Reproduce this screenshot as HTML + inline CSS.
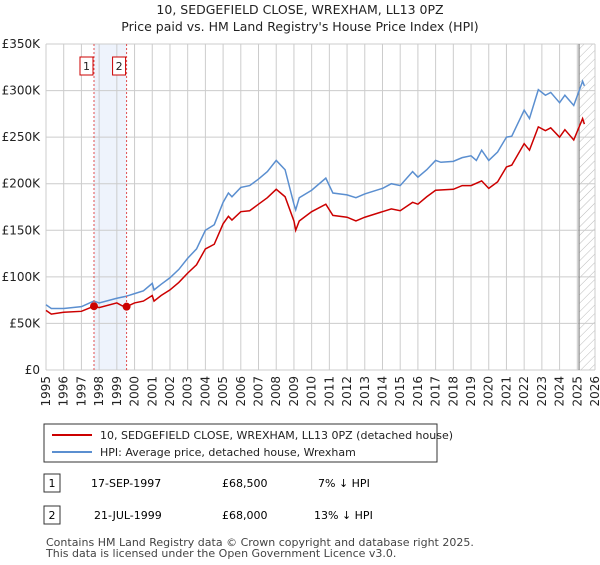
<!DOCTYPE html>
<html><head><meta charset="utf-8"><style>
body{margin:0;background:#fff;font-family:"Liberation Sans","DejaVu Sans",sans-serif;}
svg text{font-family:"DejaVu Sans","Liberation Sans",sans-serif;}
</style></head><body>
<svg id="c" width="600" height="560" viewBox="0 0 600 560">
<defs><pattern id="hatch" width="6" height="6" patternUnits="userSpaceOnUse" patternTransform="rotate(45)"><line x1="0" y1="0" x2="0" y2="6" stroke="#bbb" stroke-width="1"/></pattern></defs>
<text x="300" y="14" text-anchor="middle" font-size="12.5" fill="#222">10, SEDGEFIELD CLOSE, WREXHAM, LL13 0PZ</text>
<text x="300" y="31" text-anchor="middle" font-size="12.5" fill="#222">Price paid vs. HM Land Registry's House Price Index (HPI)</text>
<g id="grid"></g><g id="plot"></g>
<g>
<rect x="44" y="424" width="393" height="38" fill="#fff" stroke="#333"/>
<line x1="52" y1="435" x2="92" y2="435" stroke="#cc0000" stroke-width="2"/>
<text x="100" y="439" font-size="11" fill="#222">10, SEDGEFIELD CLOSE, WREXHAM, LL13 0PZ (detached house)</text>
<line x1="52" y1="452" x2="92" y2="452" stroke="#5b8fd0" stroke-width="2"/>
<text x="100" y="456" font-size="11" fill="#222">HPI: Average price, detached house, Wrexham</text>
</g>
<g>
<rect x="44" y="474" width="16" height="18" fill="#fff" stroke="#333"/><text x="52" y="487" text-anchor="middle" font-size="11">1</text>
<text x="91" y="487" font-size="11">17-SEP-1997</text><text x="222" y="487" font-size="11">£68,500</text><text x="318" y="487" font-size="11">7% ↓ HPI</text></g>
<g>
<rect x="44" y="506" width="16" height="18" fill="#fff" stroke="#333"/><text x="52" y="519" text-anchor="middle" font-size="11">2</text>
<text x="94" y="519" font-size="11">21-JUL-1999</text><text x="222" y="519" font-size="11">£68,000</text><text x="314" y="519" font-size="11">13% ↓ HPI</text></g>
<text x="46" y="546" font-size="11" fill="#444">Contains HM Land Registry data © Crown copyright and database right 2025.</text>
<text x="46" y="557" font-size="11" fill="#444">This data is licensed under the Open Government Licence v3.0.</text>
</svg>
<script>
const hpiYears=[1995,1995.3,1996,1997,1997.7,1998,1999,1999.5,2000,2000.5,2001,2001.1,2001.5,2002,2002.5,2003,2003.5,2004,2004.5,2005,2005.3,2005.5,2006,2006.5,2007,2007.5,2008,2008.5,2009,2009.1,2009.3,2010,2010.8,2011.2,2012,2012.5,2013,2014,2014.5,2015,2015.7,2016,2016.5,2017,2017.3,2018,2018.5,2019,2019.3,2019.6,2020,2020.5,2021,2021.3,2022,2022.3,2022.8,2023.2,2023.5,2024,2024.3,2024.8,2025.3,2025.4];
const hpiValues=[70,66,66,68,74,72,77,79,82,85,93,86,92,99,108,120,130,150,156,180,190,186,196,198,205,213,225,215,178,172,185,193,206,190,188,185,189,195,200,198,213,207,215,225,223,224,228,230,225,236,225,234,250,251,279,270,301,295,298,287,295,284,310,305];
const redYears=[1995,1995.3,1996,1997,1997.71,1998,1999,1999.3,1999.55,2000,2000.5,2001,2001.1,2001.5,2002,2002.5,2003,2003.5,2004,2004.5,2005,2005.3,2005.5,2006,2006.5,2007,2007.5,2008,2008.5,2009,2009.1,2009.3,2010,2010.8,2011.2,2012,2012.5,2013,2014,2014.5,2015,2015.7,2016,2016.5,2017,2018,2018.5,2019,2019.6,2020,2020.5,2021,2021.3,2022,2022.3,2022.8,2023.2,2023.5,2024,2024.3,2024.8,2025.3,2025.4];
const redValues=[64,60,62,63,68.5,67,72,69,68,72,74,80,74,80,86,94,104,113,130,135,157,165,161,170,171,178,185,194,186,160,150,160,170,178,166,164,160,164,170,173,171,180,178,186,193,194,198,198,203,195,202,218,220,243,236,261,257,260,250,258,247,270,264];
const saleYears=[1997.71,1999.55];
const saleValues=[68.5,68];
const saleLabels=["1","2"];
const yTicks=[0,50,100,150,200,250,300,350];
const yTickLabels=["£0","£50K","£100K","£150K","£200K","£250K","£300K","£350K"];
const xTicks=[1995,1996,1997,1998,1999,2000,2001,2002,2003,2004,2005,2006,2007,2008,2009,2010,2011,2012,2013,2014,2015,2016,2017,2018,2019,2020,2021,2022,2023,2024,2025,2026];
const L=46,R=595,T=44,B=370,x0=1995,x1=2026,yMax=350;
const X=v=>L+(v-x0)/(x1-x0)*(R-L);
const Y=v=>B-v/yMax*(B-T);
const NS="http://www.w3.org/2000/svg";
const grid=document.getElementById('grid'),plot=document.getElementById('plot');
function mk(p,t,a){const e=document.createElementNS(NS,t);for(const k in a)e.setAttribute(k,a[k]);p.appendChild(e);return e;}
// band between sales
const band=mk(grid,'rect',{x:X(saleYears[0]),y:T,width:X(saleYears[1])-X(saleYears[0]),height:B-T,fill:'#eef3fc'});


const hat=mk(grid,'rect',{x:X(2025.1),y:T,width:R-X(2025.1),height:B-T,fill:'url(#hatch)'});


yTicks.forEach((t,i)=>{
 mk(grid,'line',{x1:L,x2:R,y1:Y(t),y2:Y(t),stroke:'#ccc'});
 const tx=mk(grid,'text',{x:L-6,y:Y(t)+4,'text-anchor':'end','font-size':12,fill:'#222'});
 tx.textContent=yTickLabels[i];
 
 
});
xTicks.forEach(t=>{
 mk(grid,'line',{x1:X(t),x2:X(t),y1:T,y2:B,stroke:'#ccc'});
 const tx=mk(grid,'text',{x:0,y:0,'text-anchor':'end','font-size':12,fill:'#222',transform:`translate(${X(t)+4},${B+6}) rotate(-90)`});
 tx.textContent=t;
 
 
});
mk(grid,'line',{x1:X(2025.1),x2:X(2025.1),y1:T,y2:B,stroke:'#888','stroke-width':1.2});
const hp=mk(plot,'polyline',{points:hpiYears.map((y,i)=>X(y)+','+Y(hpiValues[i])).join(' '),fill:'none',stroke:'#5b8fd0','stroke-width':1.5});


const rp=mk(plot,'polyline',{points:redYears.map((y,i)=>X(y)+','+Y(redValues[i])).join(' '),fill:'none',stroke:'#cc0000','stroke-width':1.5});


saleYears.forEach((s,i)=>{
 const ln=mk(plot,'line',{x1:X(s),x2:X(s),y1:T,y2:B,stroke:'#e05050','stroke-dasharray':'2,2'});
 
 
 const c=mk(plot,'circle',{cx:X(s),cy:Y(saleValues[i]),r:4,fill:'#cc0000'});
 
 
 const bx=mk(plot,'rect',{x:X(s)-14,y:57,width:13,height:18,fill:'#fff',stroke:'#cc0000'});
 
 
 const t=mk(plot,'text',{x:X(s)-7.5,y:70,'text-anchor':'middle','font-size':11,fill:'#222'});
 t.textContent=saleLabels[i];
 
 
});
</script>
</body></html>
